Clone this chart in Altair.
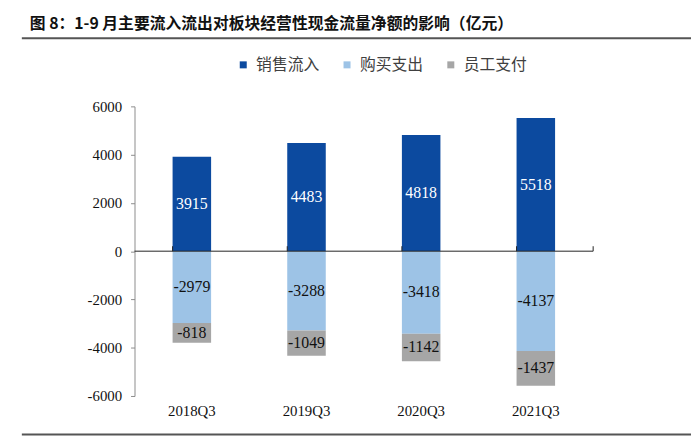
import altair as alt
import pandas as pd

quarters = ["2018Q3", "2019Q3", "2020Q3", "2021Q3"]
sales = [3915, 4483, 4818, 5518]
purchase = [-2979, -3288, -3418, -4137]
staff = [-818, -1049, -1142, -1437]
series = ["销售流入", "购买支出", "员工支付"]
colors = ["#0C4A9F", "#9DC3E6", "#A6A6A6"]
label_colors = ["#FFFFFF", "#111111", "#111111"]
y_ticks = [-6000, -4000, -2000, 0, 2000, 4000, 6000]
title_text = "图 8：1-9 月主要流入流出对板块经营性现金流量净额的影响（亿元）"

rows = []
for i, q in enumerate(quarters):
    for j, (s, vals) in enumerate(zip(series, [sales, purchase, staff])):
        rows.append({"q": q, "series": s, "value": vals[i], "order": j,
                     "lc": label_colors[j]})
df = pd.DataFrame(rows)

W, H = 464, 293
serif = "Liberation Serif"
cjk = "Noto Sans CJK SC"

xscale = alt.Scale(domain=quarters, paddingInner=0.664, paddingOuter=0.332)
yscale = alt.Scale(domain=[-6000, 6000], nice=False)

base = alt.Chart(df).transform_stack(
    stack="value", groupby=["q"], as_=["v0", "v1"],
    sort=[alt.SortField("order", order="ascending")]
).transform_calculate(mid="(datum.v0 + datum.v1) / 2", txt="'' + datum.value")

bars = base.mark_bar().encode(
    x=alt.X("q:N", scale=xscale, title=None,
            axis=alt.Axis(orient="bottom", domain=False, ticks=False, labelAngle=0,
                          labelFont=serif, labelFontSize=15, labelColor="#111111",
                          labelPadding=8)),
    y=alt.Y("v0:Q", scale=yscale, title=None,
            axis=alt.Axis(values=y_ticks, grid=False, domainColor="#8C8C8C",
                          tickColor="#8C8C8C", tickSize=4, labelFont=serif,
                          labelExpr="'' + datum.value",
                          labelFontSize=15, labelColor="#111111", labelPadding=9)),
    y2="v1:Q",
    color=alt.Color("series:N", scale=alt.Scale(domain=series, range=colors),
                    sort=series,
                    legend=alt.Legend(title=None, orient="none", legendX=102, legendY=-50,
                                      direction="horizontal", symbolType="square",
                                      symbolSize=50, symbolStrokeWidth=0,
                                      labelFont=cjk, labelFontSize=16,
                                      labelColor="#404040", labelOffset=5,
                                      columnPadding=19, padding=0)),
    order=alt.Order("order:Q"),
)

labels = base.mark_text(font=serif, fontSize=16).encode(
    x=alt.X("q:N", scale=xscale, title=None),
    y=alt.Y("mid:Q", scale=yscale, title=None),
    text=alt.Text("txt:N"),
    color=alt.Color("lc:N", scale=None, legend=None),
)

deco = alt.Chart(pd.DataFrame({"a": [0]}))
qdf = alt.Chart(pd.DataFrame({"q": quarters}))
zero_line = deco.mark_rule(color="#222222", strokeWidth=1).encode(
    x=alt.value(0), x2=alt.value(W), y=alt.Y(datum=0, scale=yscale, title=None))
zero_ticks = qdf.mark_rule(color="#222222", strokeWidth=1, y2Offset=-5).encode(
    x=alt.X("q:N", scale=xscale, bandPosition=0, title=None),
    y=alt.Y(datum=0, scale=yscale, title=None),
    y2=alt.Y2(datum=0))
end_tick = deco.mark_rule(color="#222222", strokeWidth=1, y2Offset=-5).encode(
    x=alt.value(W), y=alt.Y(datum=0, scale=yscale, title=None), y2=alt.Y2(datum=0))

top_line = deco.mark_rule(color="#555555", strokeWidth=2).encode(
    x=alt.value(-114), x2=alt.value(563), y=alt.value(-69))
bottom_line = deco.mark_rule(color="#555555", strokeWidth=2).encode(
    x=alt.value(-114), x2=alt.value(563), y=alt.value(332))
title = deco.mark_text(font=cjk, fontSize=16, fontWeight="bold", color="#111111",
                       align="left", baseline="middle").encode(
    x=alt.value(-106), y=alt.value(-83), text=alt.value(title_text))

chart = alt.layer(bars, labels, zero_line, zero_ticks, end_tick,
                  top_line, bottom_line, title).properties(
    width=W, height=H,
    autosize=alt.AutoSizeParams(type="none"),
    padding={"left": 128, "top": 97, "right": 99, "bottom": 41},
).configure_view(stroke=None)

chart.save("out.html", embed_options={"renderer": "svg", "actions": False})
